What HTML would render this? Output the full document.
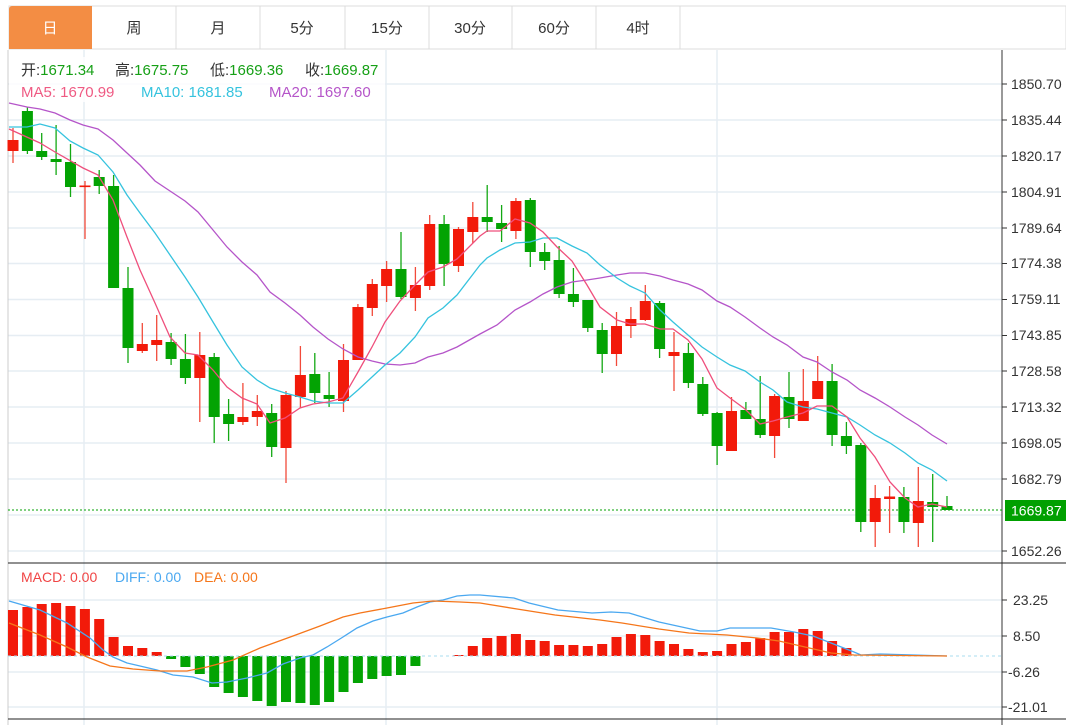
<!DOCTYPE html>
<html><head><meta charset="utf-8"><style>
html,body{margin:0;padding:0;background:#fff;width:1066px;height:725px;overflow:hidden;font-family:"Liberation Sans","Noto Sans CJK SC",sans-serif;}
</style></head><body>
<svg width="1066" height="725" xmlns="http://www.w3.org/2000/svg" style="position:absolute;left:0;top:0">
<!-- tab bar -->
<rect x="9" y="6" width="1057" height="43" fill="#fff" stroke="#dcdcdc"/>
<path d="M9 49 V9 a3 3 0 0 1 3 -3 H92 V49 Z" fill="#f38d44"/>
<g stroke="#dcdcdc"><line x1="176" y1="6" x2="176" y2="49"/><line x1="260" y1="6" x2="260" y2="49"/><line x1="345" y1="6" x2="345" y2="49"/><line x1="429" y1="6" x2="429" y2="49"/><line x1="512" y1="6" x2="512" y2="49"/><line x1="596" y1="6" x2="596" y2="49"/><line x1="680" y1="6" x2="680" y2="49"/></g>
<g font-size="15" text-anchor="middle" fill="#333" font-family="Liberation Sans,Noto Sans CJK SC,sans-serif">
<text x="50" y="33" fill="#fff">日</text><text x="134" y="33">周</text><text x="218" y="33">月</text><text x="302" y="33">5分</text><text x="387" y="33">15分</text><text x="470" y="33">30分</text><text x="554" y="33">60分</text><text x="638" y="33">4时</text>
</g>
<!-- grid -->
<g stroke="#e6edf3" stroke-width="1.5">
<line x1="8" y1="84" x2="1002" y2="84"/><line x1="8" y1="120" x2="1002" y2="120"/><line x1="8" y1="156" x2="1002" y2="156"/><line x1="8" y1="192" x2="1002" y2="192"/><line x1="8" y1="228" x2="1002" y2="228"/><line x1="8" y1="263.5" x2="1002" y2="263.5"/><line x1="8" y1="299.5" x2="1002" y2="299.5"/><line x1="8" y1="335.5" x2="1002" y2="335.5"/><line x1="8" y1="371" x2="1002" y2="371"/><line x1="8" y1="407" x2="1002" y2="407"/><line x1="8" y1="443" x2="1002" y2="443"/><line x1="8" y1="479" x2="1002" y2="479"/><line x1="8" y1="515" x2="1002" y2="515"/><line x1="8" y1="551" x2="1002" y2="551"/>
<line x1="8" y1="600" x2="1002" y2="600"/><line x1="8" y1="636" x2="1002" y2="636"/><line x1="8" y1="672" x2="1002" y2="672"/><line x1="8" y1="707" x2="1002" y2="707"/>
<line x1="84" y1="50" x2="84" y2="725"/><line x1="386" y1="50" x2="386" y2="725"/><line x1="717" y1="50" x2="717" y2="725"/>
</g>
<line x1="8" y1="50" x2="8" y2="725" stroke="#ccc"/>
<line x1="1002" y1="50" x2="1002" y2="725" stroke="#333"/>
<line x1="8" y1="563" x2="1066" y2="563" stroke="#222"/>
<line x1="8" y1="719" x2="1066" y2="719" stroke="#222"/>
<!-- info -->
<rect x="9" y="57" width="376" height="45" fill="#fff" opacity="0.8"/>
<g font-size="15" font-family="Liberation Sans,Noto Sans CJK SC,sans-serif">
<text x="21" y="75" fill="#333">开:<tspan fill="#16a016">1671.34</tspan><tspan x="115">高:</tspan><tspan fill="#16a016">1675.75</tspan><tspan x="210">低:</tspan><tspan fill="#16a016">1669.36</tspan><tspan x="305">收:</tspan><tspan fill="#16a016">1669.87</tspan></text>
<text x="21" y="97" fill="#ef5a83">MA5: 1670.99</text>
<text x="141" y="97" fill="#36c3de">MA10: 1681.85</text>
<text x="269" y="97" fill="#b555c9">MA20: 1697.60</text>
<text x="21" y="582" font-size="14" fill="#f04545">MACD: 0.00</text>
<text x="115" y="582" font-size="14" fill="#4aa8f0">DIFF: 0.00</text>
<text x="194" y="582" font-size="14" fill="#f5761a">DEA: 0.00</text>
</g>
<!-- axis labels -->
<g font-size="14" fill="#333" font-family="Liberation Sans,sans-serif">
<g stroke="#333"><line x1="1002" x2="1007" y1="84" y2="84"/><line x1="1002" x2="1007" y1="120" y2="120"/><line x1="1002" x2="1007" y1="156" y2="156"/><line x1="1002" x2="1007" y1="192" y2="192"/><line x1="1002" x2="1007" y1="228" y2="228"/><line x1="1002" x2="1007" y1="263.5" y2="263.5"/><line x1="1002" x2="1007" y1="299.5" y2="299.5"/><line x1="1002" x2="1007" y1="335.5" y2="335.5"/><line x1="1002" x2="1007" y1="371" y2="371"/><line x1="1002" x2="1007" y1="407" y2="407"/><line x1="1002" x2="1007" y1="443" y2="443"/><line x1="1002" x2="1007" y1="479" y2="479"/><line x1="1002" x2="1007" y1="551" y2="551"/><line x1="1002" x2="1007" y1="600" y2="600"/><line x1="1002" x2="1007" y1="636" y2="636"/><line x1="1002" x2="1007" y1="672" y2="672"/><line x1="1002" x2="1007" y1="707" y2="707"/></g>
<text x="1011" y="89">1850.70</text><text x="1011" y="125">1835.44</text><text x="1011" y="161">1820.17</text><text x="1011" y="197">1804.91</text><text x="1011" y="233">1789.64</text><text x="1011" y="268">1774.38</text><text x="1011" y="304">1759.11</text><text x="1011" y="340">1743.85</text><text x="1011" y="376">1728.58</text><text x="1011" y="412">1713.32</text><text x="1011" y="448">1698.05</text><text x="1011" y="484">1682.79</text><text x="1011" y="556">1652.26</text>
<text x="1013" y="605">23.25</text><text x="1013" y="641">8.50</text><text x="1008" y="677">-6.26</text><text x="1008" y="712">-21.01</text>
</g>
<!-- current price -->
<line x1="8" y1="510" x2="1002" y2="510" stroke="#00a000" stroke-dasharray="2,2"/>
<rect x="1005" y="500" width="61" height="21" fill="#00a000"/>
<text x="1011" y="515.5" font-size="14" fill="#fff" font-family="Liberation Sans,sans-serif">1669.87</text>
<!-- red candles -->
<g fill="#f21a0a" stroke="#f24a3a" stroke-width="1.3">
<line x1="13" y1="128" x2="13" y2="163"/><rect x="7.5" y="140" width="11" height="11" stroke="none"/>
<line x1="85" y1="181" x2="85" y2="239"/><rect x="79.5" y="185.5" width="11" height="1.6" stroke="none"/>
<line x1="142.3" y1="323" x2="142.3" y2="353"/><rect x="136.8" y="344" width="11" height="7" stroke="none"/>
<line x1="156.7" y1="315" x2="156.7" y2="361"/><rect x="151.2" y="340" width="11" height="5" stroke="none"/>
<line x1="199.8" y1="332" x2="199.8" y2="422"/><rect x="194.3" y="355" width="11" height="23" stroke="none"/>
<line x1="242.9" y1="383" x2="242.9" y2="425"/><rect x="237.4" y="417" width="11" height="5" stroke="none"/>
<line x1="257.3" y1="395" x2="257.3" y2="426"/><rect x="251.8" y="411" width="11" height="6" stroke="none"/>
<line x1="286" y1="391" x2="286" y2="483"/><rect x="280.5" y="395" width="11" height="53" stroke="none"/>
<line x1="300.4" y1="346" x2="300.4" y2="408"/><rect x="294.9" y="375" width="11" height="22" stroke="none"/>
<line x1="343.5" y1="344" x2="343.5" y2="412"/><rect x="338" y="360" width="11" height="41" stroke="none"/>
<line x1="357.9" y1="304" x2="357.9" y2="360"/><rect x="352.4" y="307" width="11" height="53" stroke="none"/>
<line x1="372.3" y1="279" x2="372.3" y2="316"/><rect x="366.8" y="284" width="11" height="24" stroke="none"/>
<line x1="386.6" y1="261" x2="386.6" y2="302"/><rect x="381.1" y="269" width="11" height="17" stroke="none"/>
<line x1="415.4" y1="267" x2="415.4" y2="311"/><rect x="409.9" y="285" width="11" height="13" stroke="none"/>
<line x1="429.7" y1="215" x2="429.7" y2="290"/><rect x="424.2" y="224" width="11" height="62" stroke="none"/>
<line x1="458.5" y1="227" x2="458.5" y2="272"/><rect x="453" y="229" width="11" height="37" stroke="none"/>
<line x1="472.8" y1="202" x2="472.8" y2="243"/><rect x="467.3" y="217" width="11" height="15" stroke="none"/>
<line x1="515.9" y1="198" x2="515.9" y2="239"/><rect x="510.4" y="201" width="11" height="30" stroke="none"/>
<line x1="616.5" y1="312" x2="616.5" y2="366"/><rect x="611" y="326" width="11" height="28" stroke="none"/>
<line x1="630.9" y1="307" x2="630.9" y2="338"/><rect x="625.4" y="319" width="11" height="7" stroke="none"/>
<line x1="645.3" y1="285" x2="645.3" y2="321"/><rect x="639.8" y="301" width="11" height="19" stroke="none"/>
<line x1="674" y1="332" x2="674" y2="391"/><rect x="668.5" y="352" width="11" height="4" stroke="none"/>
<line x1="731.5" y1="397" x2="731.5" y2="451"/><rect x="726" y="411" width="11" height="40" stroke="none"/>
<line x1="774.6" y1="394" x2="774.6" y2="458"/><rect x="769.1" y="396" width="11" height="40" stroke="none"/>
<line x1="803.3" y1="369" x2="803.3" y2="421"/><rect x="797.8" y="401" width="11" height="20" stroke="none"/>
<line x1="817.7" y1="356" x2="817.7" y2="399"/><rect x="812.2" y="381" width="11" height="18" stroke="none"/>
<line x1="875.2" y1="485" x2="875.2" y2="547"/><rect x="869.7" y="498" width="11" height="24" stroke="none"/>
<line x1="889.6" y1="486" x2="889.6" y2="533"/><rect x="884.1" y="496.5" width="11" height="2.5" stroke="none"/>
<line x1="918.3" y1="467" x2="918.3" y2="547"/><rect x="912.8" y="501" width="11" height="22" stroke="none"/>
</g>
<!-- green candles -->
<g fill="#03a303" stroke="#13a813" stroke-width="1.3">
<line x1="27.4" y1="107" x2="27.4" y2="154"/><rect x="21.9" y="111" width="11" height="40" stroke="none"/>
<line x1="41.7" y1="133" x2="41.7" y2="160"/><rect x="36.2" y="151" width="11" height="6" stroke="none"/>
<line x1="56.1" y1="125" x2="56.1" y2="175"/><rect x="50.6" y="159" width="11" height="3" stroke="none"/>
<line x1="70.5" y1="144" x2="70.5" y2="197"/><rect x="65" y="162" width="11" height="25" stroke="none"/>
<line x1="99.2" y1="170" x2="99.2" y2="194"/><rect x="93.7" y="177" width="11" height="9" stroke="none"/>
<line x1="113.6" y1="175" x2="113.6" y2="288"/><rect x="108.1" y="186" width="11" height="102" stroke="none"/>
<line x1="128" y1="267" x2="128" y2="363"/><rect x="122.5" y="288" width="11" height="60" stroke="none"/>
<line x1="171.1" y1="333" x2="171.1" y2="365"/><rect x="165.6" y="342" width="11" height="17" stroke="none"/>
<line x1="185.4" y1="334" x2="185.4" y2="384"/><rect x="179.9" y="359" width="11" height="19" stroke="none"/>
<line x1="214.2" y1="353" x2="214.2" y2="443"/><rect x="208.7" y="357" width="11" height="60" stroke="none"/>
<line x1="228.6" y1="399" x2="228.6" y2="441"/><rect x="223.1" y="414" width="11" height="10" stroke="none"/>
<line x1="271.7" y1="404" x2="271.7" y2="457"/><rect x="266.2" y="413" width="11" height="34" stroke="none"/>
<line x1="314.8" y1="353" x2="314.8" y2="403"/><rect x="309.3" y="374" width="11" height="19" stroke="none"/>
<line x1="329.1" y1="372" x2="329.1" y2="407"/><rect x="323.6" y="395" width="11" height="4" stroke="none"/>
<line x1="401" y1="232" x2="401" y2="299"/><rect x="395.5" y="269" width="11" height="28" stroke="none"/>
<line x1="444.1" y1="215" x2="444.1" y2="286"/><rect x="438.6" y="224" width="11" height="40" stroke="none"/>
<line x1="487.2" y1="185" x2="487.2" y2="232"/><rect x="481.7" y="217" width="11" height="5" stroke="none"/>
<line x1="501.6" y1="205" x2="501.6" y2="242"/><rect x="496.1" y="223" width="11" height="6" stroke="none"/>
<line x1="530.3" y1="198" x2="530.3" y2="267"/><rect x="524.8" y="200" width="11" height="52" stroke="none"/>
<line x1="544.7" y1="243" x2="544.7" y2="270"/><rect x="539.2" y="252" width="11" height="9" stroke="none"/>
<line x1="559.1" y1="246" x2="559.1" y2="298"/><rect x="553.6" y="260" width="11" height="34" stroke="none"/>
<line x1="573.4" y1="268" x2="573.4" y2="307"/><rect x="567.9" y="294" width="11" height="8" stroke="none"/>
<line x1="587.8" y1="300" x2="587.8" y2="332"/><rect x="582.3" y="300" width="11" height="28" stroke="none"/>
<line x1="602.2" y1="323" x2="602.2" y2="373"/><rect x="596.7" y="330" width="11" height="24" stroke="none"/>
<line x1="659.6" y1="301" x2="659.6" y2="358"/><rect x="654.1" y="303" width="11" height="46" stroke="none"/>
<line x1="688.4" y1="343" x2="688.4" y2="388"/><rect x="682.9" y="353" width="11" height="30" stroke="none"/>
<line x1="702.8" y1="377" x2="702.8" y2="416"/><rect x="697.3" y="384" width="11" height="30" stroke="none"/>
<line x1="717.1" y1="412" x2="717.1" y2="465"/><rect x="711.6" y="413" width="11" height="33" stroke="none"/>
<line x1="745.9" y1="402" x2="745.9" y2="419"/><rect x="740.4" y="410" width="11" height="9" stroke="none"/>
<line x1="760.2" y1="376" x2="760.2" y2="438"/><rect x="754.7" y="419" width="11" height="16" stroke="none"/>
<line x1="789" y1="372" x2="789" y2="428"/><rect x="783.5" y="397" width="11" height="22" stroke="none"/>
<line x1="832.1" y1="364" x2="832.1" y2="446"/><rect x="826.6" y="381" width="11" height="54" stroke="none"/>
<line x1="846.4" y1="422" x2="846.4" y2="454"/><rect x="840.9" y="436" width="11" height="10" stroke="none"/>
<line x1="860.8" y1="443" x2="860.8" y2="532"/><rect x="855.3" y="445" width="11" height="77" stroke="none"/>
<line x1="903.9" y1="487" x2="903.9" y2="533"/><rect x="898.4" y="497" width="11" height="25" stroke="none"/>
<line x1="932.7" y1="474" x2="932.7" y2="542"/><rect x="927.2" y="502" width="11" height="5" stroke="none"/>
<line x1="947" y1="496" x2="947" y2="510"/><rect x="941.5" y="506" width="11" height="4" stroke="none"/>
</g>
<!-- MA lines -->
<g fill="none" stroke-width="1.3">
<polyline stroke="#b555c9" points="9,103 27,107 40,109 55,113 70,120 83,125 98,129 113,140 127,153 140,165 155,181 170,191 185,201 198,212 213,230 227,247 242,262 257,275 270,292 285,303 300,315 313,327 328,339 343,349 358,357 372,361 385,364 400,365 415,363 428,357 443,353 457,347 480,334 497,325 515,310 530,302 543,294 557,287 572,282 587,280 600,278 617,275 630,273 645,273 660,276 673,280 688,284 702,290 717,301 730,307 745,317 760,328 773,337 787,345 803,357 817,362 832,372 847,380 860,390 875,398 890,407 905,417 918,425 932,435 947,444"/>
<polyline stroke="#36c3de" points="9,127 27,127 40,124 55,128 70,141 83,148 98,155 113,172 127,195 140,213 155,233 170,255 185,277 198,297 213,322 227,345 242,367 257,380 270,388 285,393 300,397 313,401 328,403 343,403 358,390 372,377 385,365 400,353 415,337 428,318 443,308 457,295 480,265 487,258 500,250 515,243 530,242 543,238 557,238 572,246 587,253 600,265 617,278 630,286 645,293 660,310 673,322 688,335 702,347 717,357 730,365 745,371 760,382 773,390 787,402 803,407 817,409 832,413 847,417 860,425 875,435 890,443 905,453 918,463 932,470 947,481"/>
<polyline stroke="#ef4f7c" points="9,129 40,143 55,152 83,168 98,175 113,200 127,237 140,270 155,303 170,337 185,353 198,355 213,370 227,387 242,398 257,404 270,423 285,418 300,408 313,404 328,402 343,398 358,372 372,347 385,322 400,301 415,285 428,272 443,267 457,259 480,236 487,231 500,231 515,219 530,223 543,232 557,247 572,261 587,285 600,307 617,320 630,324 645,324 660,329 673,329 688,340 702,359 717,388 730,398 745,409 760,424 773,421 787,417 803,413 817,406 832,406 847,417 860,438 875,457 890,482 905,498 918,507 932,504 947,507"/>
</g>
<!-- MACD bars -->
<g fill="#f21a0a">
<rect x="8" y="610" width="10" height="46"/><rect x="22.4" y="607" width="10" height="49"/><rect x="36.7" y="604" width="10" height="52"/><rect x="51.1" y="603" width="10" height="53"/><rect x="65.5" y="606" width="10" height="50"/><rect x="79.9" y="609" width="10" height="47"/><rect x="94.2" y="619" width="10" height="37"/><rect x="108.6" y="637" width="10" height="19"/><rect x="123" y="646" width="10" height="10"/><rect x="137.3" y="648" width="10" height="8"/><rect x="151.7" y="652" width="10" height="4"/>
<rect x="453.5" y="655" width="10" height="1"/><rect x="467.8" y="646" width="10" height="10"/><rect x="482.2" y="638" width="10" height="18"/><rect x="496.6" y="636" width="10" height="20"/><rect x="510.9" y="634" width="10" height="22"/><rect x="525.3" y="640" width="10" height="16"/><rect x="539.7" y="641" width="10" height="15"/><rect x="554.1" y="645" width="10" height="11"/><rect x="568.4" y="645" width="10" height="11"/><rect x="582.8" y="646" width="10" height="10"/><rect x="597.2" y="644" width="10" height="12"/><rect x="611.5" y="637" width="10" height="19"/><rect x="625.9" y="634" width="10" height="22"/><rect x="640.3" y="635" width="10" height="21"/><rect x="654.6" y="641" width="10" height="15"/><rect x="669" y="644" width="10" height="12"/><rect x="683.4" y="649" width="10" height="7"/><rect x="697.8" y="652" width="10" height="4"/><rect x="712.1" y="651" width="10" height="5"/><rect x="726.5" y="644" width="10" height="12"/><rect x="740.9" y="642" width="10" height="14"/><rect x="755.2" y="638" width="10" height="18"/><rect x="769.6" y="632" width="10" height="24"/><rect x="784" y="632" width="10" height="24"/><rect x="798.3" y="629" width="10" height="27"/><rect x="812.7" y="631" width="10" height="25"/><rect x="827.1" y="641" width="10" height="15"/><rect x="841.4" y="648" width="10" height="8"/>
</g>
<g fill="#03a303">
<rect x="166.1" y="656" width="10" height="3"/><rect x="180.4" y="656" width="10" height="11"/><rect x="194.8" y="656" width="10" height="18"/><rect x="209.2" y="656" width="10" height="31"/><rect x="223.6" y="656" width="10" height="37"/><rect x="237.9" y="656" width="10" height="41"/><rect x="252.3" y="656" width="10" height="45"/><rect x="266.7" y="656" width="10" height="50"/><rect x="281" y="656" width="10" height="46"/><rect x="295.4" y="656" width="10" height="47"/><rect x="309.8" y="656" width="10" height="49"/><rect x="324.1" y="656" width="10" height="46"/><rect x="338.5" y="656" width="10" height="36"/><rect x="352.9" y="656" width="10" height="27"/><rect x="367.3" y="656" width="10" height="23"/><rect x="381.6" y="656" width="10" height="20"/><rect x="396" y="656" width="10" height="19"/><rect x="410.4" y="656" width="10" height="10"/>
</g>
<line x1="8" y1="656" x2="1002" y2="656" stroke="#a8dcef" stroke-dasharray="3,3"/>
<g fill="none" stroke-width="1.3">
<polyline stroke="#4aa8f0" points="9,601 40,610 67,623 90,638 103,650 113,657 127,663 140,666 157,670 173,675 193,677 212,683 227,682 247,678 267,673 283,664 300,658 313,655 327,647 343,637 357,628 373,621 387,617 403,613 417,607 430,602 443,600 457,596 470,595 480,595 514,598 529,603 558,610 592,613 611,612 629,613 659,622 700,631 717,631 730,628 771,628 794,632 813,636 831,643 854,652 861,655 880,654 947,656"/>
<polyline stroke="#f5761a" points="9,623 40,635 67,647 87,657 110,666 133,669 160,671 187,671 207,667 233,660 260,648 293,636 320,626 343,617 360,613 387,608 413,603 433,601 460,602 480,603 517,609 555,615 600,620 622,623 659,629 689,633 727,635 757,638 779,641 805,647 831,653 854,655 947,656"/>
</g>
</svg>
</body></html>
